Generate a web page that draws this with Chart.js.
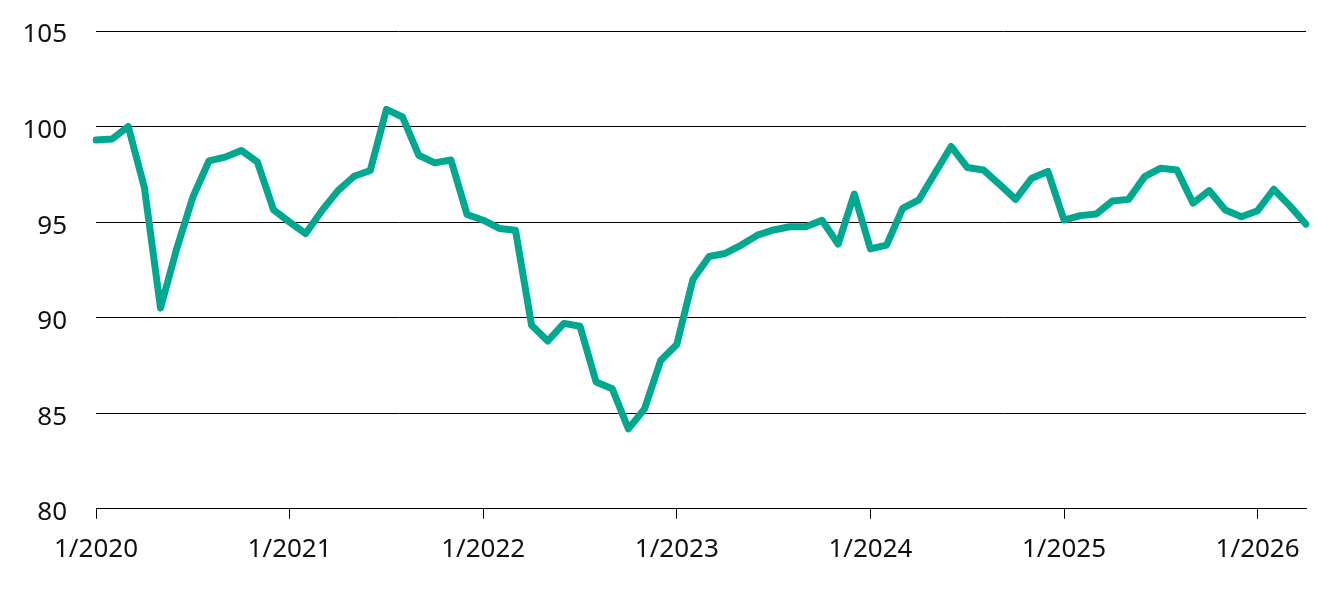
<!DOCTYPE html>
<html>
<head>
<meta charset="utf-8">
<script src="https://cdn.jsdelivr.net/npm/chart.js@4"></script>
<style>
    html, body { margin: 0; padding: 0; background: #fff; }
    #wrap { width: 1331px; height: 589px; }
</style>
</head>
<body>
<div id="wrap"><canvas id="chart"></canvas></div>
<script>
// months 1/2020 .. 4/2026
const months = [
    '1/2020', '2/2020', '3/2020', '4/2020', '5/2020', '6/2020', '7/2020', '8/2020', '9/2020', '10/2020', '11/2020', '12/2020',
    '1/2021', '2/2021', '3/2021', '4/2021', '5/2021', '6/2021', '7/2021', '8/2021', '9/2021', '10/2021', '11/2021', '12/2021',
    '1/2022', '2/2022', '3/2022', '4/2022', '5/2022', '6/2022', '7/2022', '8/2022', '9/2022', '10/2022', '11/2022', '12/2022',
    '1/2023', '2/2023', '3/2023', '4/2023', '5/2023', '6/2023', '7/2023', '8/2023', '9/2023', '10/2023', '11/2023', '12/2023',
    '1/2024', '2/2024', '3/2024', '4/2024', '5/2024', '6/2024', '7/2024', '8/2024', '9/2024', '10/2024', '11/2024', '12/2024',
    '1/2025', '2/2025', '3/2025', '4/2025', '5/2025', '6/2025', '7/2025', '8/2025', '9/2025', '10/2025', '11/2025', '12/2025',
    '1/2026', '2/2026', '3/2026', '4/2026'
];

const indexValues = [
    99.3, 99.35, 100.0, 96.8, 90.5, 93.6, 96.3, 98.2, 98.4, 98.75, 98.15, 95.65,
    95.0, 94.4, 95.6, 96.65, 97.4, 97.7, 100.9, 100.5, 98.5, 98.1, 98.25, 95.4,
    95.1, 94.67, 94.58, 89.6, 88.78, 89.7, 89.55, 86.63, 86.28, 84.18, 85.23, 87.76,
    88.6, 92.0, 93.2, 93.36, 93.8, 94.32, 94.59, 94.76, 94.76, 95.1, 93.85, 96.47,
    93.6, 93.8, 95.72, 96.16, 97.56, 98.96, 97.86, 97.73, 96.98, 96.19, 97.3, 97.65,
    95.11, 95.34, 95.42, 96.1, 96.19, 97.38, 97.82, 97.73, 95.99, 96.65, 95.63, 95.28,
    95.6, 96.72, 95.85, 94.89
];

const yTicks = [80, 85, 90, 95, 100, 105];

const isJan = (i) => months[i].startsWith('1/');

new Chart(document.getElementById('chart'), {
    type: 'line',
    data: {
        labels: months,
        datasets: [{
            data: indexValues,
            borderColor: '#00a88f',
            borderWidth: 7,
            borderJoinStyle: 'round',
            borderCapStyle: 'round',
            pointRadius: 0,
            tension: 0,
            fill: false
        }]
    },
    options: {
        responsive: true,
        maintainAspectRatio: false,
        animation: false,
        layout: { padding: { top: 31, right: 25, left: 0, bottom: 9 } },
        plugins: {
            legend: { display: false },
            tooltip: { enabled: false }
        },
        scales: {
            x: {
                offset: false,
                border: { display: true, color: '#000', width: 1 },
                grid: {
                    drawOnChartArea: false,
                    drawTicks: true,
                    tickLength: 10,
                    color: (ctx) => isJan(ctx.index) ? '#000' : 'rgba(0,0,0,0)'
                },
                ticks: {
                    autoSkip: false,
                    maxRotation: 0,
                    padding: 15,
                    color: '#111',
                    font: { family: 'Noto Sans', size: 26 },
                    callback: (v, i) => isJan(i) ? months[i] : ''
                }
            },
            y: {
                min: 80,
                max: 105,
                afterFit: (scale) => {
                    scale.width = 96;
                    scale.paddingTop = 0;
                    scale.paddingBottom = 0;
                },
                afterBuildTicks: (scale) => { scale.ticks = yTicks.map(v => ({ value: v })); },
                border: { display: false },
                grid: {
                    drawTicks: false,
                    color: '#000',
                    lineWidth: 1
                },
                ticks: {
                    padding: 29,
                    labelOffset: 4,
                    color: '#111',
                    font: { family: 'Noto Sans', size: 26 }
                }
            }
        }
    }
});
</script>
</body>
</html>
